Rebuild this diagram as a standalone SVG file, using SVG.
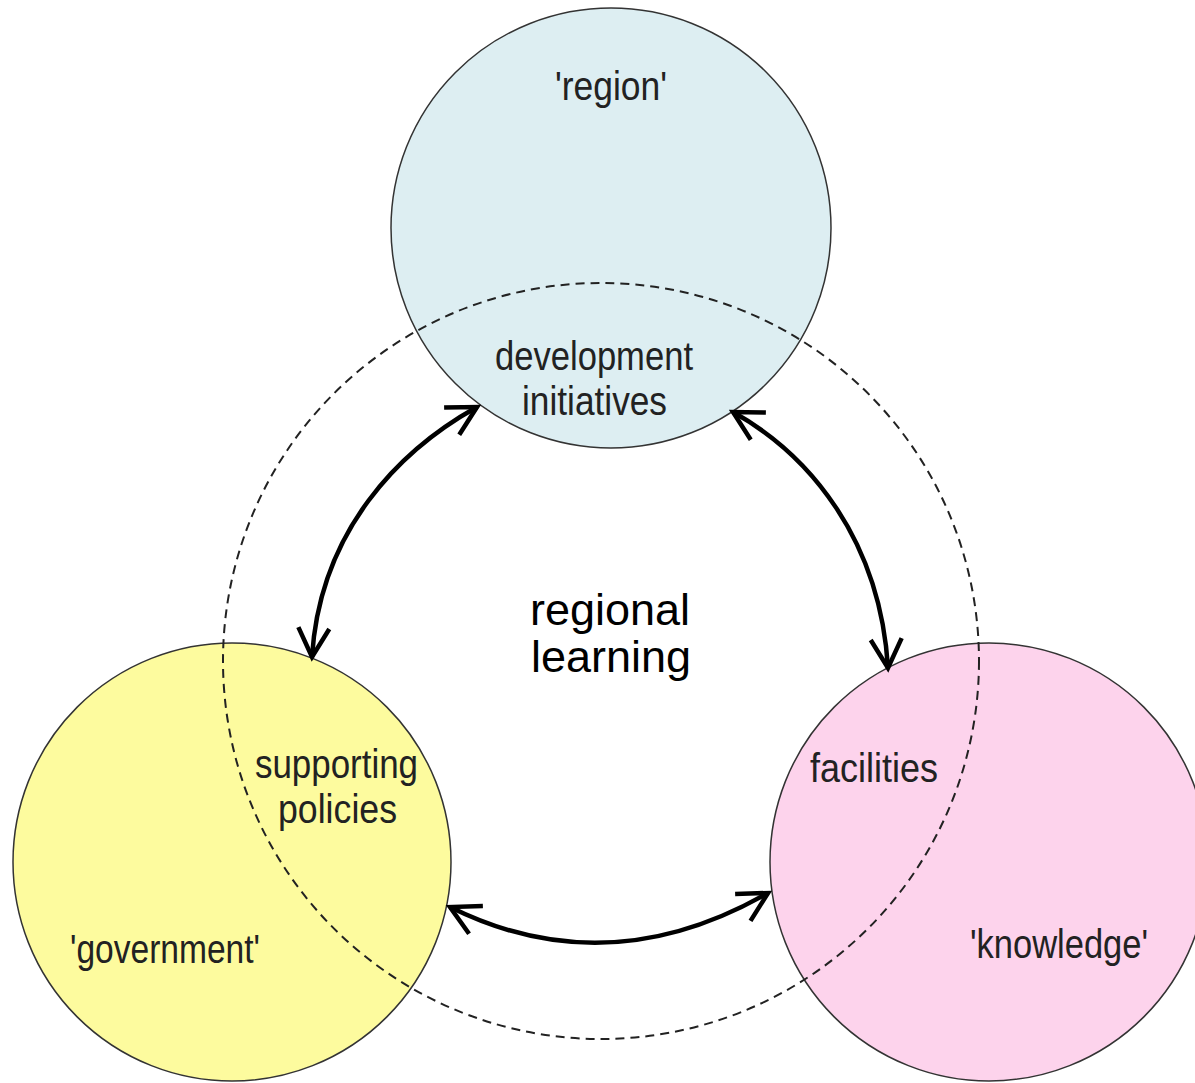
<svg xmlns="http://www.w3.org/2000/svg" width="1195" height="1083" viewBox="0 0 1195 1083">
<style>
.node{stroke:#333;stroke-width:1.5}
.lbl{font-family:"Liberation Sans",Arial,sans-serif;font-size:40px;fill:#222}
.big{font-family:"Liberation Sans",Arial,sans-serif;font-size:45px;fill:#000}
.arr{fill:none;stroke:#000;stroke-width:4.5;marker-start:url(#ah);marker-end:url(#ah)}
.dash{fill:none;stroke:#222;stroke-width:2;stroke-dasharray:9 6}
</style>
<defs>
<marker id="ah" markerUnits="userSpaceOnUse" markerWidth="40" markerHeight="40" refX="0" refY="0" orient="auto-start-reverse" overflow="visible">
<path d="M -29 -15.5 L 0 0 L -29 15.5" fill="none" stroke="#000" stroke-width="4.5"/>
</marker>
</defs>
<rect width="1195" height="1083" fill="#fff"/>
<g id="region">
<circle class="node" cx="611" cy="228" r="220" fill="#DDEEF2"/>
<text class="lbl" x="611" y="100" text-anchor="middle" textLength="112" lengthAdjust="spacingAndGlyphs">'region'</text>
</g>
<g id="government">
<circle class="node" cx="232" cy="862" r="219" fill="#FDFB9E"/>
<text class="lbl" x="70" y="963" textLength="190" lengthAdjust="spacingAndGlyphs">'government'</text>
</g>
<g id="knowledge">
<circle class="node" cx="989" cy="862" r="219" fill="#FDD3EC"/>
<text class="lbl" x="970" y="958" textLength="178" lengthAdjust="spacingAndGlyphs">'knowledge'</text>
</g>
<g id="regional-learning">
<circle class="dash" cx="601" cy="661" r="378"/>
<text class="big" x="610" y="625" text-anchor="middle">regional</text>
<text class="big" x="611" y="672" text-anchor="middle">learning</text>
</g>
<g id="development-initiatives">
<text class="lbl" x="495" y="370" textLength="198" lengthAdjust="spacingAndGlyphs">development</text>
<text class="lbl" x="522" y="415" textLength="145" lengthAdjust="spacingAndGlyphs">initiatives</text>
</g>
<g id="supporting-policies">
<text class="lbl" x="255" y="778" textLength="163" lengthAdjust="spacingAndGlyphs">supporting</text>
<text class="lbl" x="278" y="823" textLength="119" lengthAdjust="spacingAndGlyphs">policies</text>
</g>
<g id="facilities">
<text class="lbl" x="810" y="782" textLength="128" lengthAdjust="spacingAndGlyphs">facilities</text>
</g>
<g id="connectors">
<path class="arr" d="M 477 407 C 400 450, 320 530, 312 657"/>
<path class="arr" d="M 733 412 C 810 455, 880 540, 888 668"/>
<path class="arr" d="M 450 907 Q 607 985 768 893"/>
</g>
</svg>
